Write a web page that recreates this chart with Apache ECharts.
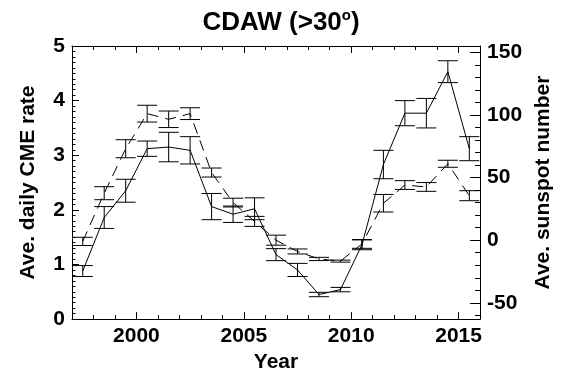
<!DOCTYPE html>
<html>
<head>
<meta charset="utf-8">
<script src="https://cdn.jsdelivr.net/npm/echarts@6/dist/echarts.min.js"></script>
<style>
  html, body { margin: 0; padding: 0; background: #fff; }
  #chart { width: 562px; height: 378px; }
</style>
</head>
<body>
<div id="chart"></div>
<script>
// Yearly bins (mid-year)
const years = [1997.5, 1998.5, 1999.5, 2000.5, 2001.5, 2002.5, 2003.5, 2004.5, 2005.5, 2006.5,
               2007.5, 2008.5, 2009.5, 2010.5, 2011.5, 2012.5, 2013.5, 2014.5, 2015.5];
// Average daily CME rate (left axis) and its uncertainty
const cmeRate = [0.88, 1.86, 2.35, 3.12, 3.15, 3.09, 2.06, 1.92, 2.02, 1.18,
                 0.90, 0.45, 0.54, 1.36, 2.83, 3.77, 3.77, 4.53, 3.12];
const cmeErr  = [0.10, 0.20, 0.21, 0.14, 0.27, 0.25, 0.24, 0.15, 0.20, 0.11,
                 0.12, 0.04, 0.04, 0.09, 0.26, 0.23, 0.27, 0.20, 0.22];
// Average sunspot number (right axis) and its uncertainty
const sunspot    = [-1, 37.5, 73, 101, 96.5, 101, 54, 30, 15, 0,
                     -9, -15, -16.7, -3, 29.5, 44, 42.5, 61, 35.5];
const sunspotErr = [3.3, 5.2, 7.2, 6.7, 6.6, 4.7, 3.6, 3.5, 4.0, 4.0,
                    2.0, 1.3, 0.8, 3.5, 7.0, 3.5, 3.5, 2.8, 4.0];

// Axis ticks
const xMajorTicks = [2000, 2005, 2010, 2015];
const xMinorTicks = [1997, 1998, 1999, 2000, 2001, 2002, 2003, 2004, 2005, 2006, 2007, 2008,
                     2009, 2010, 2011, 2012, 2013, 2014, 2015, 2016];
const rightMajorTicks = [-50, 0, 50, 100, 150];
const rightMinorTicks = [-60, -50, -40, -30, -20, -10, 0, 10, 20, 30, 40, 50, 60, 70, 80, 90,
                         100, 110, 120, 130, 140, 150];

const FONT = 'Liberation Sans';
const INK = '#000';

const chart = echarts.init(document.getElementById('chart'), null, { renderer: 'canvas' });

function errorBars(values, errs) {
  return years.map((y, i) => [y, values[i] - errs[i], values[i] + errs[i]]);
}

// Vertical bar with a horizontal cap at each end
function renderErrorBar(params, api) {
  const x = api.value(0);
  const lo = api.coord([x, api.value(1)]);
  const hi = api.coord([x, api.value(2)]);
  const w = 10;
  const st = { stroke: INK, lineWidth: 1 };
  return {
    type: 'group',
    children: [
      { type: 'line', shape: { x1: lo[0], y1: lo[1], x2: hi[0], y2: hi[1] }, style: st },
      { type: 'line', shape: { x1: lo[0] - w, y1: lo[1], x2: lo[0] + w, y2: lo[1] }, style: st },
      { type: 'line', shape: { x1: hi[0] - w, y1: hi[1], x2: hi[0] + w, y2: hi[1] }, style: st }
    ]
  };
}

const axisLine = { show: true, onZero: false, lineStyle: { color: INK, width: 1 } };
const noLine = { show: false, onZero: false };
const labelStyle = { color: INK, fontFamily: FONT, fontWeight: 'bold', fontSize: 21 };
const nameStyle = { color: INK, fontFamily: FONT, fontWeight: 'bold', fontSize: 21 };

const option = {
  animation: false,
  backgroundColor: '#fff',
  title: {
    text: '{t|CDAW (>30}{s|o}{t|)}',
    left: 'center',
    top: 3,
    textStyle: {
      rich: {
        t: { fontFamily: FONT, fontWeight: 'bold', fontSize: 26, color: INK, lineHeight: 30 },
        s: { fontFamily: FONT, fontWeight: 'bold', fontSize: 15, color: INK, verticalAlign: 'top', lineHeight: 30 }
      }
    }
  },
  grid: { left: 72, right: 67, top: 46, bottom: 54, containLabel: false },
  xAxis: [
    {
      type: 'value', position: 'bottom', min: 1997, max: 2016,
      name: 'Year', nameLocation: 'middle', nameGap: 31, nameTextStyle: nameStyle,
      axisLine: axisLine,
      axisTick: { show: true, inside: true, length: 4, customValues: xMinorTicks, lineStyle: { color: INK } },
      axisLabel: Object.assign({ customValues: xMajorTicks, margin: 7, formatter: v => String(v) }, labelStyle),
      splitLine: { show: false }
    },
    {
      type: 'value', position: 'bottom', min: 1997, max: 2016,
      axisLine: noLine,
      axisTick: { show: true, inside: true, length: 7, customValues: xMajorTicks, lineStyle: { color: INK } },
      axisLabel: { show: false },
      splitLine: { show: false }
    },
    {
      type: 'value', position: 'top', min: 1997, max: 2016,
      axisLine: axisLine,
      axisTick: { show: true, inside: true, length: 4, customValues: xMinorTicks, lineStyle: { color: INK } },
      axisLabel: { show: false },
      splitLine: { show: false }
    },
    {
      type: 'value', position: 'top', min: 1997, max: 2016,
      axisLine: noLine,
      axisTick: { show: true, inside: true, length: 7, customValues: xMajorTicks, lineStyle: { color: INK } },
      axisLabel: { show: false },
      splitLine: { show: false }
    }
  ],
  yAxis: [
    {
      type: 'value', position: 'left', min: 0, max: 5, interval: 1,
      name: 'Ave. daily CME rate', nameLocation: 'middle', nameGap: 33, nameTextStyle: nameStyle,
      axisLine: axisLine,
      axisTick: { show: true, inside: true, length: 7, lineStyle: { color: INK } },
      minorTick: { show: true, splitNumber: 10, length: 3.5, lineStyle: { color: INK } },
      axisLabel: Object.assign({ margin: 7 }, labelStyle),
      splitLine: { show: false }
    },
    {
      type: 'value', position: 'right', min: -63, max: 155,
      name: 'Ave. sunspot number', nameLocation: 'middle', nameGap: 42, nameTextStyle: nameStyle,
      axisLine: axisLine,
      axisTick: { show: true, inside: true, length: 10, customValues: rightMajorTicks, lineStyle: { color: INK } },
      axisLabel: Object.assign({ customValues: rightMajorTicks, margin: 7 }, labelStyle),
      splitLine: { show: false }
    },
    {
      type: 'value', position: 'right', min: -63, max: 155,
      axisLine: noLine,
      axisTick: { show: true, inside: true, length: 5, customValues: rightMinorTicks, lineStyle: { color: INK } },
      axisLabel: { show: false },
      splitLine: { show: false }
    }
  ],
  series: [
    {
      name: 'CME rate', type: 'line', xAxisIndex: 0, yAxisIndex: 0,
      data: years.map((y, i) => [y, cmeRate[i]]),
      symbol: 'none',
      lineStyle: { color: INK, width: 1 }
    },
    {
      name: 'CME rate error', type: 'custom', xAxisIndex: 0, yAxisIndex: 0,
      data: errorBars(cmeRate, cmeErr),
      encode: { x: 0, y: [1, 2] },
      renderItem: renderErrorBar
    },
    {
      name: 'Sunspot number', type: 'line', xAxisIndex: 0, yAxisIndex: 1,
      data: years.map((y, i) => [y, sunspot[i]]),
      symbol: 'none',
      lineStyle: { color: INK, width: 1, type: [11, 7] }
    },
    {
      name: 'Sunspot number error', type: 'custom', xAxisIndex: 0, yAxisIndex: 1,
      data: errorBars(sunspot, sunspotErr),
      encode: { x: 0, y: [1, 2] },
      renderItem: renderErrorBar
    }
  ]
};

chart.setOption(option);
</script>
</body>
</html>
